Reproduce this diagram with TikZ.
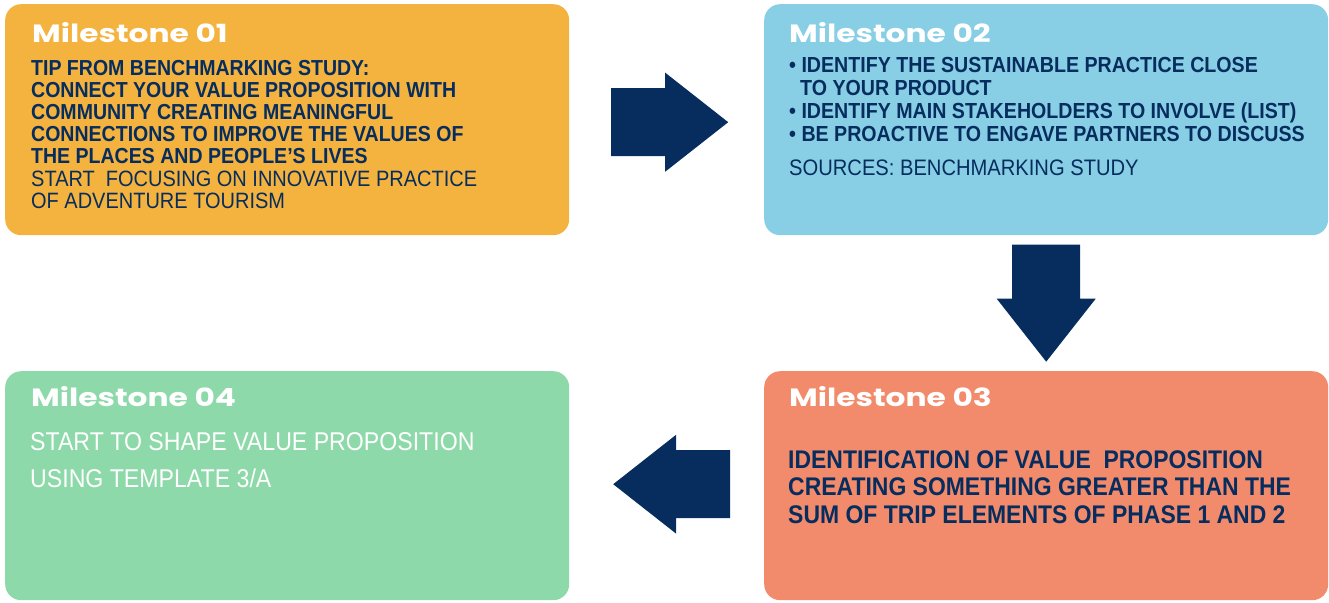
\documentclass[tikz,border=0pt]{standalone}
\usepackage{fontspec}
\setmainfont{Liberation Sans}
\newfontfamily\bodyfont{Liberation Sans}[FakeStretch=0.9]
\newfontfamily\headfont{Poppins}[FakeStretch=1.25]
\usepackage{tikz}
\usetikzlibrary{calc,positioning}
\definecolor{mileorange}{HTML}{F4B23E}
\definecolor{mileblue}{HTML}{88CFE6}
\definecolor{milesalmon}{HTML}{F28B6B}
\definecolor{milegreen}{HTML}{8ED9A9}
\definecolor{milenavy}{HTML}{062D5E}

\tikzset{
	milebox/.style={rounded corners=16pt, minimum width=564pt, minimum height=231pt, anchor=north west, inner sep=0pt},
	miletitle/.style={anchor=base west, inner sep=0pt, text=white, font=\headfont\bfseries\fontsize{25}{28}\selectfont},
	miletext/.style={anchor=north west, inner sep=0pt, align=left, text=milenavy},
	blockarrow/.pic={\fill[milenavy] (-58.5,34) -- (-4.5,34) -- (-4.5,49.5) -- (58.5,0) -- (-4.5,-49.5) -- (-4.5,-34) -- (-58.5,-34) -- cycle;}
}

\begin{document}
\begin{tikzpicture}[x=1pt, y=1pt]
		%%%%% START %%%%%
		\useasboundingbox (0,0) rectangle (1329,-602);
		
		\node[milebox, fill=mileorange] (m1) at (5,-4) {};
		\node[milebox, fill=mileblue] (m2) at (764,-4) {};
		\node[milebox, fill=milesalmon, minimum height=229pt] (m3) at (764,-371) {};
		\node[milebox, fill=milegreen, minimum height=229pt] (m4) at (5,-371) {};
		
		\node[miletitle] (m1title) at ($(m1.north west)+(27,-38)$) {Milestone 01};
		\node[miletext, font=\bodyfont\bfseries\fontsize{21.7}{22}\selectfont] (m1tip) at ($(m1.north west)+(26,-56)$)
			{TIP FROM BENCHMARKING STUDY:\\
			 CONNECT YOUR VALUE PROPOSITION WITH\\
			 COMMUNITY CREATING MEANINGFUL\\
			 CONNECTIONS TO IMPROVE THE VALUES OF\\
			 THE PLACES AND PEOPLE’S LIVES};
		\node[miletext, font=\bodyfont\fontsize{22.2}{21.5}\selectfont] (m1start) at ($(m1.north west)+(26,-167)$)
			{START~ FOCUSING ON INNOVATIVE PRACTICE\\
			 OF ADVENTURE TOURISM};
		
		\node[miletitle] (m2title) at ($(m2.north west)+(25,-38)$) {Milestone 02};
		\node[miletext, font=\bodyfont\bfseries\fontsize{21.8}{23}\selectfont] (m2list) at ($(m2.north west)+(25,-53)$)
			{• IDENTIFY THE SUSTAINABLE PRACTICE CLOSE\\
			 \hspace*{11pt}TO YOUR PRODUCT\\
			 • IDENTIFY MAIN STAKEHOLDERS TO INVOLVE (LIST)\\
			 • BE PROACTIVE TO ENGAVE PARTNERS TO DISCUSS};
		\node[miletext, font=\bodyfont\fontsize{22.4}{23}\selectfont] (m2src) at ($(m2.north west)+(25,-156)$)
			{SOURCES: BENCHMARKING STUDY};
		
		\node[miletitle] (m3title) at ($(m3.north west)+(25,-35)$) {Milestone 03};
		\node[miletext, font=\bodyfont\bfseries\fontsize{25.5}{27.5}\selectfont] (m3text) at ($(m3.north west)+(24,-79)$)
			{IDENTIFICATION OF VALUE~ PROPOSITION\\
			 CREATING SOMETHING GREATER THAN THE\\
			 SUM OF TRIP ELEMENTS OF PHASE 1 AND 2};
		
		\node[miletitle] (m4title) at ($(m4.north west)+(26,-35)$) {Milestone 04};
		\node[miletext, text=white, font=\bodyfont\fontsize{25.7}{37}\selectfont] (m4text) at ($(m4.north west)+(25,-61)$)
			{START TO SHAPE VALUE PROPOSITION\\
			 USING TEMPLATE 3/A};
		
		% block arrows between the milestones
		\pic at ($($(m1.east)!0.5!(m2.west)$)+(3,-2.5)$) {blockarrow};
		\pic[rotate=-90] at ($(m2.south)!0.5!(m3.north)$) {blockarrow};
		\pic[rotate=180] at ($($(m4.east)!0.5!(m3.west)$)+(5,1.5)$) {blockarrow};
		
		%%%%% END %%%%%
	\end{tikzpicture}
\end{document}
